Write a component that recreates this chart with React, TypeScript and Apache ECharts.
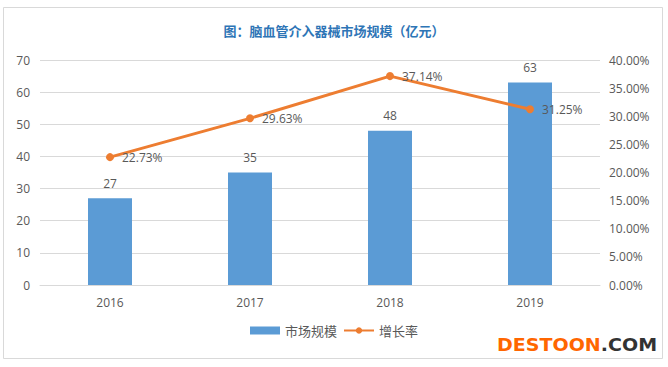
import React, { useEffect, useRef } from "react";
import * as echarts from "echarts";

const years = ["2016", "2017", "2018", "2019"];
const marketSize = [27, 35, 48, 63];
const growthRate = [22.73, 29.63, 37.14, 31.25];

export default function App() {
  const ref = useRef<HTMLDivElement>(null);
  useEffect(() => {
    if (!ref.current) return;
    const chart = echarts.init(ref.current, undefined, { renderer: "svg" });
    const txt = "#595959";
    chart.setOption({
      animation: false,
      backgroundColor: "#fff",
      textStyle: { fontFamily: "'Noto Sans CJK SC', 'Open Sans', sans-serif" },
      title: {
        text: "图：脑血管介入器械市场规模（亿元）",
        left: "center",
        top: 19,
        textStyle: { color: "#2E75B6", fontSize: 13, fontWeight: "bold", fontFamily: "'Noto Sans CJK SC', sans-serif" },
      },
      grid: { left: 40, right: 68, top: 60, bottom: 82, containLabel: false },
      legend: {
        bottom: 25,
        left: "center",
        itemGap: 6,
        itemWidth: 30,
        itemHeight: 8,
        textStyle: { color: txt, fontSize: 13, fontFamily: "'Noto Sans CJK SC', sans-serif" },
        data: [
          { name: "市场规模", icon: "rect" },
          { name: "增长率" },
        ],
      },
      xAxis: {
        type: "category",
        data: years,
        axisLine: { lineStyle: { color: "#d9d9d9" } },
        axisTick: { show: false },
        axisLabel: { color: txt, fontSize: 12, margin: 11, fontFamily: "'Open Sans', sans-serif" },
      },
      yAxis: [
        {
          type: "value",
          min: 0,
          max: 70,
          interval: 10,
          axisLine: { show: false },
          axisTick: { show: false },
          splitLine: { lineStyle: { color: "#d9d9d9" } },
          axisLabel: { color: txt, fontSize: 12, margin: 10, fontFamily: "'Open Sans', sans-serif" },
        },
        {
          type: "value",
          min: 0,
          max: 40,
          interval: 5,
          axisLine: { show: false },
          axisTick: { show: false },
          splitLine: { show: false },
          axisLabel: {
            color: txt,
            fontSize: 12,
            margin: 9,
            fontFamily: "'Open Sans', sans-serif",
            formatter: (v: number) => v.toFixed(2) + "%",
          },
        },
      ],
      series: [
        {
          name: "市场规模",
          type: "bar",
          data: marketSize,
          barWidth: 44,
          itemStyle: { color: "#5B9BD5" },
          label: { show: true, position: "top", distance: 9, color: txt, fontSize: 12, fontFamily: "'Open Sans', sans-serif" },
        },
        {
          name: "增长率",
          type: "line",
          yAxisIndex: 1,
          data: growthRate,
          symbol: "circle",
          symbolSize: 8,
          lineStyle: { color: "#ED7D31", width: 3 },
          itemStyle: { color: "#ED7D31" },
          label: {
            show: true,
            position: "right",
            distance: 8,
            color: txt,
            fontSize: 12,
            fontFamily: "'Open Sans', sans-serif",
            formatter: (p: any) => p.value.toFixed(2) + "%",
          },
        },
      ],
      graphic: [
        {
          type: "rect",
          silent: true,
          shape: { x: 3.5, y: 7.5, width: 659, height: 351 },
          style: { fill: "none", stroke: "#d9d9d9", lineWidth: 1 },
          z: -1,
        },
        {
          type: "text",
          x: 497,
          y: 336,
          scaleX: 1.12,
          style: {
            text: "{a|DESTOON}{b|.COM}",
            font: "bold 17px 'DejaVu Sans', sans-serif",
            rich: {
              a: { fill: "#FF6600", font: "bold 17px 'DejaVu Sans', sans-serif" },
              b: { fill: "#333333", font: "bold 17px 'DejaVu Sans', sans-serif" },
            },
          },
        },
      ],
    });
    return () => chart.dispose();
  }, []);
  return <div ref={ref} style={{ width: 668, height: 367, position: "absolute", left: 0, top: 0 }} />;
}
